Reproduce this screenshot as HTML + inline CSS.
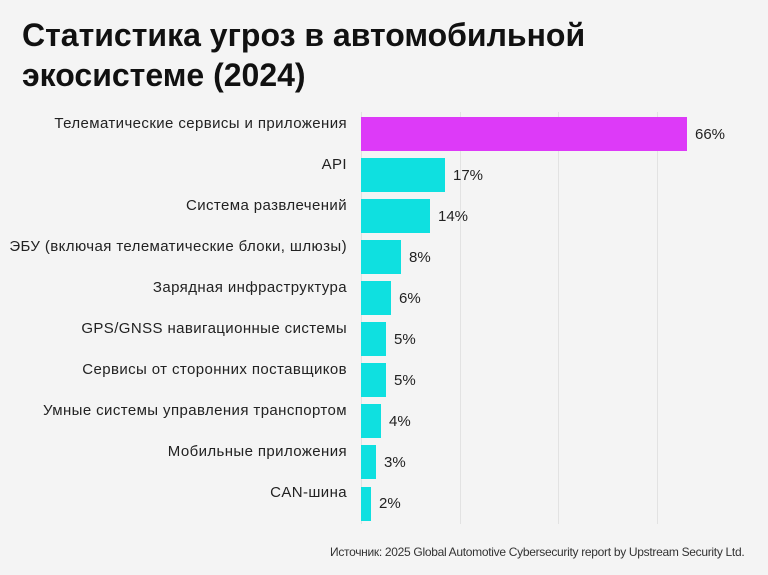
<!DOCTYPE html>
<html><head><meta charset="utf-8"><style>
body{margin:0;width:768px;height:575px;background:#f4f4f4;font-family:"Liberation Sans",sans-serif;position:relative;overflow:hidden}
h1{position:absolute;left:22px;top:15px;margin:0;font-size:32px;line-height:40px;font-weight:bold;color:#111;letter-spacing:0px}
.g{position:absolute;top:112px;width:1px;height:412px;background:#e2e2e2}
.b{position:absolute;left:361px;height:34px;background:#0fe0e0}
.l{position:absolute;right:421px;font-size:15px;color:#222;white-space:nowrap;letter-spacing:0.4px}
.v{position:absolute;font-size:15px;color:#222}
.s{position:absolute;left:330px;top:545px;font-size:12px;color:#333;letter-spacing:-0.3px;white-space:nowrap}
</style></head><body>
<h1>Статистика угроз в автомобильной<br>экосистеме (2024)</h1>
<div class="g" style="left:361px"></div><div class="g" style="left:460px"></div><div class="g" style="left:558px"></div><div class="g" style="left:657px"></div>
<div class="b" style="top:117px;width:326px;background:#dd3af8"></div><div class="l" style="top:115px">Телематические сервисы и приложения</div><div class="v" style="top:126px;left:695px">66%</div>
<div class="b" style="top:158px;width:84px"></div><div class="l" style="top:156px">API</div><div class="v" style="top:167px;left:453px">17%</div>
<div class="b" style="top:199px;width:69px"></div><div class="l" style="top:197px">Система развлечений</div><div class="v" style="top:208px;left:438px">14%</div>
<div class="b" style="top:240px;width:40px"></div><div class="l" style="top:238px">ЭБУ (включая телематические блоки, шлюзы)</div><div class="v" style="top:249px;left:409px">8%</div>
<div class="b" style="top:281px;width:30px"></div><div class="l" style="top:279px">Зарядная инфраструктура</div><div class="v" style="top:290px;left:399px">6%</div>
<div class="b" style="top:322px;width:25px"></div><div class="l" style="top:320px">GPS/GNSS навигационные системы</div><div class="v" style="top:331px;left:394px">5%</div>
<div class="b" style="top:363px;width:25px"></div><div class="l" style="top:361px">Сервисы от сторонних поставщиков</div><div class="v" style="top:372px;left:394px">5%</div>
<div class="b" style="top:404px;width:20px"></div><div class="l" style="top:402px">Умные системы управления транспортом</div><div class="v" style="top:413px;left:389px">4%</div>
<div class="b" style="top:445px;width:15px"></div><div class="l" style="top:443px">Мобильные приложения</div><div class="v" style="top:454px;left:384px">3%</div>
<div class="b" style="top:487px;width:10px"></div><div class="l" style="top:484px">CAN-шина</div><div class="v" style="top:495px;left:379px">2%</div>
<div class="s">Источник: 2025 Global Automotive Cybersecurity report by Upstream Security Ltd.</div>
</body></html>
